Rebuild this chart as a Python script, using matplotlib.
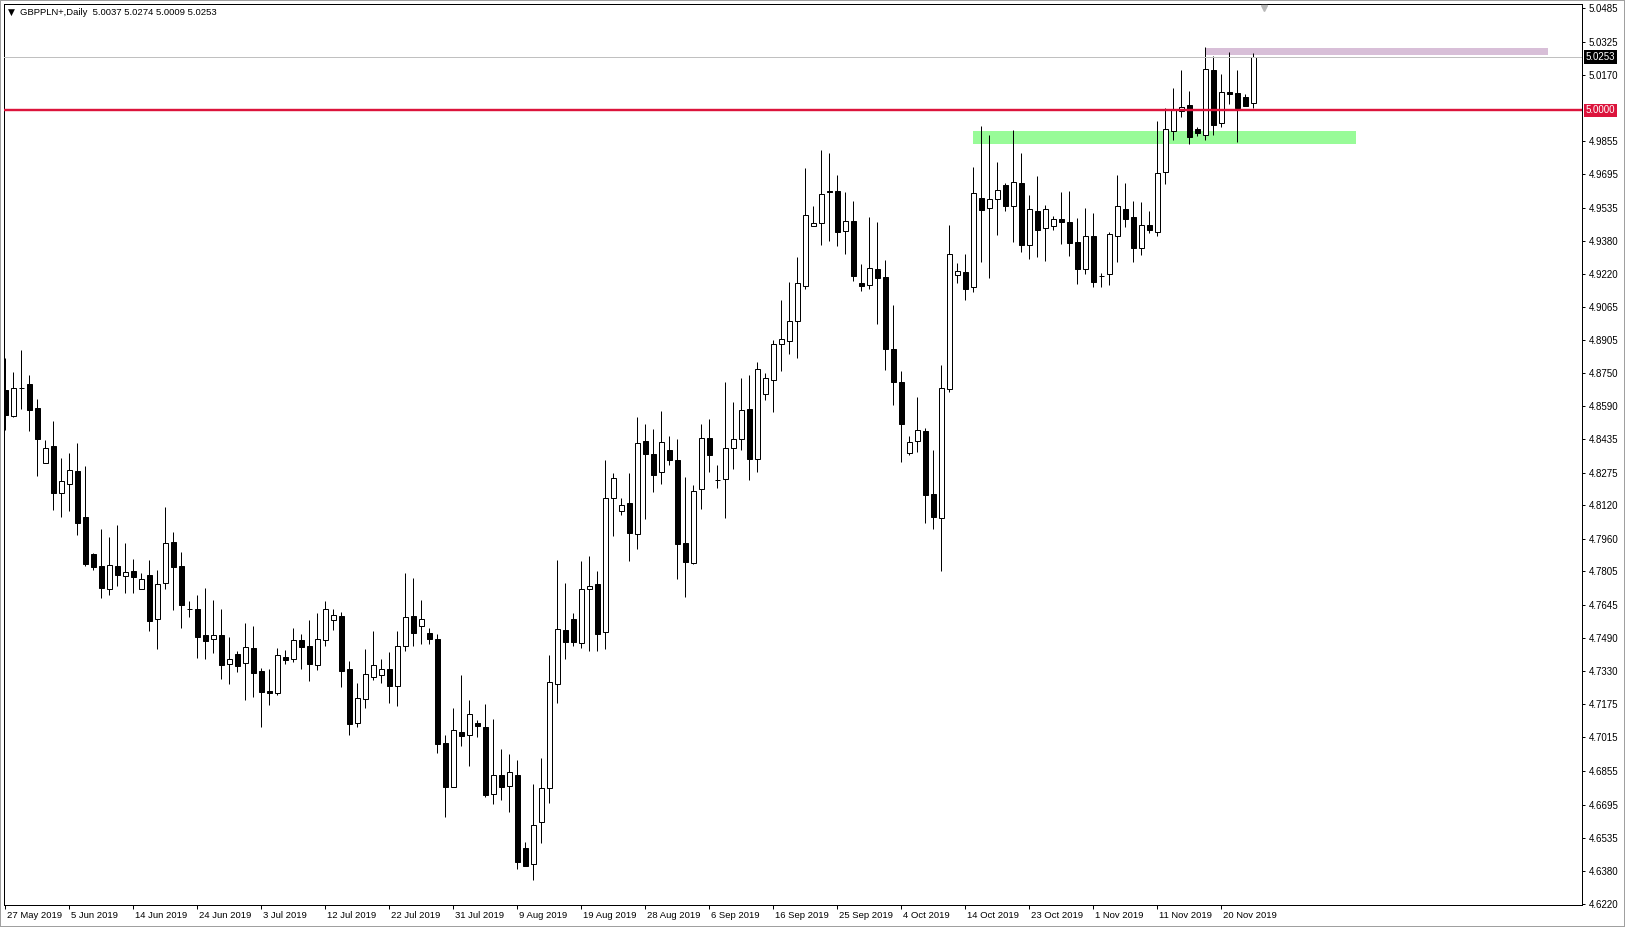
import matplotlib
matplotlib.use('Agg')
import matplotlib.pyplot as plt
import matplotlib.transforms as mtransforms
from matplotlib.patches import Rectangle

plt.rcParams['font.family'] = ['Liberation Sans', 'DejaVu Sans']

# ---------------- data (GBPPLN+, Daily) ----------------
opens = [4.8669, 4.8546, 4.8676, 4.8697, 4.8582, 4.8320, 4.8402, 4.8180, 4.8223, 4.8283,
         4.8064, 4.7888, 4.7831, 4.7723, 4.7831, 4.7785, 4.7807, 4.7720, 4.7788, 4.7577,
         4.7749, 4.7945, 4.7831, 4.7628, 4.7626, 4.7502, 4.7482, 4.7501, 4.7363, 4.7411,
         4.7368, 4.7439, 4.7330, 4.7236, 4.7228, 4.7398, 4.7387, 4.7479, 4.7450, 4.7361,
         4.7477, 4.7572, 4.7591, 4.7339, 4.7082, 4.7196, 4.7301, 4.7313, 4.7339, 4.7258,
         4.7449, 4.7591, 4.7544, 4.7511, 4.7482, 4.6987, 4.6780, 4.7039, 4.7025, 4.7083,
         4.7064, 4.6744, 4.6835, 4.6782, 4.6835, 4.6487, 4.6414, 4.6611, 4.6773, 4.7268,
         4.7525, 4.7577, 4.7463, 4.7720, 4.7744, 4.7518, 4.8153, 4.8091, 4.8129, 4.7985,
         4.8424, 4.8362, 4.8277, 4.8382, 4.8334, 4.7939, 4.7847, 4.8196, 4.8439, 4.8239,
         4.8246, 4.8391, 4.8434, 4.8577, 4.8342, 4.8648, 4.8715, 4.8886, 4.8900, 4.8996,
         4.9162, 4.9448, 4.9462, 4.9614, 4.9614, 4.9424, 4.9473, 4.9176, 4.9167, 4.9243,
         4.9205, 4.8862, 4.8705, 4.8370, 4.8424, 4.8472, 4.8172, 4.8061, 4.8673, 4.9215,
         4.9229, 4.9160, 4.9581, 4.9534, 4.9576, 4.9643, 4.9543, 4.9653, 4.9357, 4.9519,
         4.9438, 4.9448, 4.9481, 4.9467, 4.9372, 4.9246, 4.9400, 4.9211, 4.9222, 4.9403,
         4.9529, 4.9492, 4.9345, 4.9454, 4.9422, 4.9705, 4.9903, 4.9997, 5.0025, 4.9912,
         4.9881, 5.0192, 4.9938, 5.0087, 5.0082, 5.0063, 5.0037]
highs = [4.8820, 4.8753, 4.8859, 4.8740, 4.8624, 4.8431, 4.8521, 4.8345, 4.8367, 4.8415,
         4.8307, 4.7891, 4.8007, 4.7969, 4.8026, 4.7940, 4.7864, 4.7798, 4.7859, 4.7812,
         4.8113, 4.7993, 4.7898, 4.7664, 4.7693, 4.7726, 4.7669, 4.7625, 4.7493, 4.7426,
         4.7560, 4.7545, 4.7345, 4.7341, 4.7441, 4.7431, 4.7536, 4.7507, 4.7574, 4.7607,
         4.7664, 4.7626, 4.7612, 4.7379, 4.7273, 4.7436, 4.7521, 4.7388, 4.7421, 4.7521,
         4.7798, 4.7772, 4.7668, 4.7534, 4.7506, 4.7025, 4.7154, 4.7311, 4.7193, 4.7098,
         4.7172, 4.7101, 4.6960, 4.6935, 4.6906, 4.6516, 4.6793, 4.6917, 4.7407, 4.7859,
         4.7749, 4.7607, 4.7855, 4.7878, 4.7807, 4.8335, 4.8274, 4.8155, 4.8274, 4.8540,
         4.8507, 4.8483, 4.8567, 4.8450, 4.8435, 4.8253, 4.8215, 4.8507, 4.8531, 4.8310,
         4.8707, 4.8611, 4.8726, 4.8740, 4.8801, 4.8748, 4.8907, 4.9096, 4.9181, 4.9302,
         4.9725, 4.9543, 4.9811, 4.9797, 4.9692, 4.9611, 4.9568, 4.9267, 4.9492, 4.9467,
         4.9287, 4.9073, 4.8758, 4.8450, 4.8635, 4.8486, 4.8383, 4.8788, 4.9454, 4.9272,
         4.9315, 4.9730, 4.9925, 4.9882, 4.9754, 4.9653, 4.9906, 4.9797, 4.9597, 4.9687,
         4.9549, 4.9497, 4.9611, 4.9616, 4.9487, 4.9535, 4.9511, 4.9224, 4.9421, 4.9691,
         4.9654, 4.9568, 4.9564, 4.9521, 4.9949, 5.0011, 5.0106, 5.0192, 5.0092, 4.9921,
         5.0301, 5.0258, 5.0173, 5.0278, 5.0192, 5.0078, 5.0274]
lows = [4.8478, 4.8539, 4.8578, 4.8475, 4.8261, 4.8320, 4.8097, 4.8066, 4.8093, 4.7978,
        4.7831, 4.7812, 4.7680, 4.7693, 4.7736, 4.7704, 4.7704, 4.7720, 4.7523, 4.7437,
        4.7721, 4.7621, 4.7537, 4.7590, 4.7394, 4.7388, 4.7418, 4.7294, 4.7271, 4.7328,
        4.7194, 4.7209, 4.7066, 4.7171, 4.7218, 4.7366, 4.7374, 4.7342, 4.7285, 4.7337,
        4.7452, 4.7528, 4.7254, 4.7026, 4.7066, 4.7155, 4.7288, 4.7274, 4.7179, 4.7166,
        4.7428, 4.7452, 4.7461, 4.7458, 4.6942, 4.6638, 4.6780, 4.6975, 4.6880, 4.7018,
        4.6733, 4.6699, 4.6718, 4.6661, 4.6387, 4.6401, 4.6336, 4.6514, 4.6701, 4.7180,
        4.7387, 4.7452, 4.7442, 4.7428, 4.7428, 4.7437, 4.7975, 4.8075, 4.7856, 4.7913,
        4.8056, 4.8185, 4.8223, 4.8313, 4.7770, 4.7685, 4.7839, 4.8104, 4.8280, 4.8204,
        4.8061, 4.8294, 4.8385, 4.8240, 4.8280, 4.8622, 4.8565, 4.8760, 4.8841, 4.8822,
        4.9151, 4.9448, 4.9360, 4.9379, 4.9356, 4.9317, 4.9186, 4.9141, 4.9148, 4.8984,
        4.8765, 4.8599, 4.8327, 4.8361, 4.8375, 4.8037, 4.8008, 4.7807, 4.8659, 4.9179,
        4.9097, 4.9135, 4.9279, 4.9203, 4.9408, 4.9522, 4.9375, 4.9327, 4.9294, 4.9303,
        4.9284, 4.9432, 4.9365, 4.9308, 4.9175, 4.9222, 4.9160, 4.9160, 4.9170, 4.9279,
        4.9446, 4.9278, 4.9311, 4.9417, 4.9403, 4.9651, 4.9859, 4.9970, 4.9841, 4.9878,
        4.9860, 4.9884, 4.9922, 5.0031, 4.9851, 5.0022, 5.0009]
closes = [4.8551, 4.8677, 4.8678, 4.8573, 4.8437, 4.8391, 4.8180, 4.8234, 4.8288, 4.8037,
          4.7840, 4.7828, 4.7728, 4.7834, 4.7789, 4.7801, 4.7780, 4.7769, 4.7571, 4.7744,
          4.7940, 4.7828, 4.7645, 4.7627, 4.7494, 4.7475, 4.7501, 4.7361, 4.7387, 4.7356,
          4.7444, 4.7323, 4.7233, 4.7228, 4.7406, 4.7385, 4.7479, 4.7447, 4.7366, 4.7482,
          4.7625, 4.7596, 4.7333, 4.7080, 4.7201, 4.7315, 4.7358, 4.7339, 4.7261, 4.7449,
          4.7587, 4.7513, 4.7577, 4.7482, 4.6982, 4.6780, 4.7049, 4.7023, 4.7125, 4.7071,
          4.6742, 4.6835, 4.6780, 4.6849, 4.6423, 4.6404, 4.6597, 4.6773, 4.7277, 4.7530,
          4.7468, 4.7467, 4.7720, 4.7734, 4.7509, 4.8153, 4.8248, 4.8120, 4.7989, 4.8415,
          4.8365, 4.8265, 4.8420, 4.8334, 4.7937, 4.7849, 4.8186, 4.8439, 4.8361, 4.8238,
          4.8391, 4.8434, 4.8572, 4.8342, 4.8767, 4.8724, 4.8886, 4.8910, 4.8996, 4.9176,
          4.9500, 4.9462, 4.9600, 4.9610, 4.9422, 4.9472, 4.9210, 4.9162, 4.9248, 4.9200,
          4.8865, 4.8708, 4.8508, 4.8420, 4.8477, 4.8170, 4.8066, 4.8678, 4.9315, 4.9234,
          4.9149, 4.9605, 4.9527, 4.9576, 4.9619, 4.9546, 4.9657, 4.9360, 4.9529, 4.9432,
          4.9529, 4.9481, 4.9467, 4.9370, 4.9246, 4.9400, 4.9184, 4.9210, 4.9410, 4.9543,
          4.9484, 4.9345, 4.9454, 4.9430, 4.9700, 4.9910, 5.0001, 5.0014, 4.9874, 4.9893,
          5.0195, 4.9931, 5.0086, 5.0079, 5.0012, 5.0022, 5.0253]

date_labels = ['27 May 2019', '5 Jun 2019', '14 Jun 2019', '24 Jun 2019', '3 Jul 2019',
               '12 Jul 2019', '22 Jul 2019', '31 Jul 2019', '9 Aug 2019', '19 Aug 2019',
               '28 Aug 2019', '6 Sep 2019', '16 Sep 2019', '25 Sep 2019', '4 Oct 2019',
               '14 Oct 2019', '23 Oct 2019', '1 Nov 2019', '11 Nov 2019', '20 Nov 2019']
label_every = 8

price_ticks = [5.0485, 5.0325, 5.0170, 4.9855, 4.9695, 4.9535, 4.9380, 4.9220, 4.9065,
               4.8905, 4.8750, 4.8590, 4.8435, 4.8275, 4.8120, 4.7960, 4.7805, 4.7645,
               4.7490, 4.7330, 4.7175, 4.7015, 4.6855, 4.6695, 4.6535, 4.6380, 4.6220]

title_text = 'GBPPLN+,Daily  5.0037 5.0274 5.0009 5.0253'
level_price = 5.0000
bid_price = 5.0253
support_zone = (4.9841, 4.9901)
support_bars = (120.96, 168.84)
resist_zone = (5.0263, 5.0297)
resist_bars = (150.05, 192.8)
y_limits = (4.6217, 5.0506)
shift_bar = 157.3

# ---------------- figure ----------------
W, H = 1625, 927
DPI = 100
PX = 72.0 / DPI
fig = plt.figure(figsize=(W / DPI, H / DPI), dpi=DPI)
ax_left, ax_right, ax_top, ax_bot = 4, 1582, 4, 905
ax = fig.add_axes([ax_left / W, (H - ax_bot) / H, (ax_right - ax_left) / W, (ax_bot - ax_top) / H])

bar_px = 8.0
x0 = (ax_left - 5.3) / bar_px
ax.set_xlim(x0, x0 + (ax_right - ax_left) / bar_px)
ax.set_ylim(*y_limits)

# zones (background)
ax.add_patch(Rectangle((support_bars[0], support_zone[0]), support_bars[1] - support_bars[0],
                       support_zone[1] - support_zone[0], facecolor='#98FB98', edgecolor='none', zorder=1))
ax.add_patch(Rectangle((resist_bars[0], resist_zone[0]), resist_bars[1] - resist_bars[0],
                       resist_zone[1] - resist_zone[0], facecolor='#D8BFD8', edgecolor='none', zorder=1))

# candles
xs = list(range(len(opens)))
ax.vlines(xs, lows, highs, color='black', linewidth=1.0 * PX, zorder=2)
bottoms = [min(o, c) for o, c in zip(opens, closes)]
heights = [max(abs(c - o), 0.00005) for o, c in zip(opens, closes)]
faces = ['white' if c >= o else 'black' for o, c in zip(opens, closes)]
ax.bar(xs, heights, bottom=bottoms, width=5.0 / bar_px, color=faces, edgecolor='black',
       linewidth=1.0 * PX, zorder=3)

# horizontal lines
ax.axhline(bid_price, color='#C0C0C0', linewidth=1.0 * PX, zorder=4)
ax.axhline(level_price, color='#DC143C', linewidth=2.4 * PX, zorder=5)

# axes styling
for s in ax.spines.values():
    s.set_color('black')
    s.set_linewidth(1.0 * PX)

ax.yaxis.tick_right()
ax.set_yticks(price_ticks)
ax.set_yticklabels(['%.4f' % v for v in price_ticks])
ax.tick_params(axis='y', direction='out', length=3 * PX, width=1.0 * PX, pad=2.5,
               labelsize=7, colors='black')

ax.set_xticks([i * label_every for i in range(len(date_labels))])
ax.set_xticklabels(date_labels)
ax.tick_params(axis='x', direction='out', length=4 * PX, width=1.0 * PX, pad=1.5,
               labelsize=6.8, colors='black')
offset = mtransforms.ScaledTranslation(1.5 / DPI, 0, fig.dpi_scale_trans)
for lab in ax.get_xticklabels():
    lab.set_horizontalalignment('left')
    lab.set_transform(lab.get_transform() + offset)

# price boxes on the right axis
box_tr = mtransforms.blended_transform_factory(ax.transAxes, ax.transData) + \
    mtransforms.ScaledTranslation(3.5 / DPI, 0, fig.dpi_scale_trans)
ax.text(1.0, level_price, '%.4f' % level_price, transform=box_tr, ha='left', va='center',
        fontsize=7, color='white', clip_on=False, zorder=10,
        bbox=dict(boxstyle='square,pad=0.18', facecolor='#DC143C', edgecolor='none'))
ax.text(1.0, bid_price, '%.4f' % bid_price, transform=box_tr, ha='left', va='center',
        fontsize=7, color='white', clip_on=False, zorder=10,
        bbox=dict(boxstyle='square,pad=0.18', facecolor='black', edgecolor='none'))

# chart-shift marker just under the top border
shift_tr = mtransforms.blended_transform_factory(ax.transData, ax.transAxes) + \
    mtransforms.ScaledTranslation(0, -3.5 / DPI, fig.dpi_scale_trans)
ax.plot([shift_bar], [1.0], marker='v', markersize=4.5, color='#B8B8B8',
        transform=shift_tr, clip_on=False, zorder=6)

# title
fig.text(8 / W, 1 - 12.5 / H, '\u25BC', fontsize=6.5, va='center', ha='left', color='black',
         family='DejaVu Sans')
fig.text(20 / W, 1 - 12.5 / H, title_text, fontsize=6.8, va='center', ha='left', color='black')

# window border
fig.add_artist(Rectangle((0, 0), 1, 1, transform=fig.transFigure, fill=False,
                         edgecolor='#A0A0A0', linewidth=2 * PX))

fig.savefig('out.png', dpi=DPI, facecolor='white')
